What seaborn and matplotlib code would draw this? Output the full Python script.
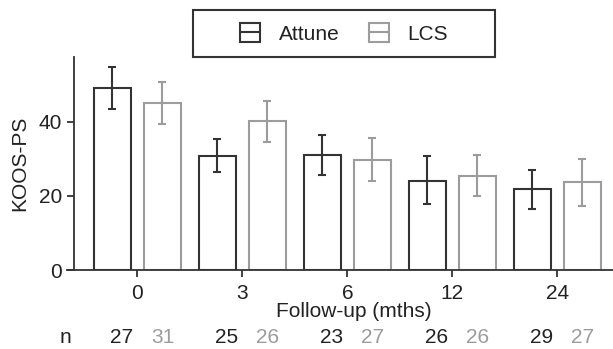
import numpy as np
import pandas as pd
import matplotlib
matplotlib.use("Agg")
import matplotlib.pyplot as plt
import seaborn as sns
from matplotlib.patches import Patch, Rectangle
from matplotlib.lines import Line2D
from matplotlib.legend_handler import HandlerTuple
from matplotlib.transforms import blended_transform_factory

months = ["0", "3", "6", "12", "24"]
groups = ["Attune", "LCS"]
attune_mean = [49.1, 30.9, 31.1, 24.1, 21.8]
attune_lo = [43.5, 26.4, 25.7, 17.7, 16.5]
attune_hi = [54.7, 35.3, 36.4, 30.8, 27.0]
lcs_mean = [45.2, 40.2, 29.8, 25.5, 23.7]
lcs_lo = [39.4, 34.6, 23.9, 19.9, 17.2]
lcs_hi = [50.8, 45.7, 35.7, 31.0, 30.0]
attune_n = [27, 25, 23, 26, 29]
lcs_n = [31, 26, 27, 26, 27]

colors = {"Attune": "#333333", "LCS": "#9c9c9c"}
fs = 15

df = pd.DataFrame({
    "month": months * 2,
    "group": ["Attune"] * 5 + ["LCS"] * 5,
    "mean": attune_mean + lcs_mean,
    "lo": attune_lo + lcs_lo,
    "hi": attune_hi + lcs_hi,
    "n": attune_n + lcs_n,
})

sns.set_style("ticks")
plt.rcParams["font.family"] = ["Liberation Sans", "DejaVu Sans"]

fig = plt.figure(figsize=(6.13, 3.49), dpi=100)
ax = fig.add_axes([67 / 613, 1 - 270 / 349, 546 / 613, 213 / 349])

sns.barplot(data=df, x="month", y="mean", hue="group", order=months,
            hue_order=groups, palette=colors, fill=False, linewidth=1.5,
            width=0.952, gap=0.26, errorbar=None, legend=False, ax=ax)

for cont, g in zip(ax.containers, groups):
    sub = df[df["group"] == g].set_index("month").loc[months]
    xs = [p.get_x() + p.get_width() / 2 for p in cont.patches]
    ax.errorbar(xs, sub["mean"], yerr=[sub["mean"] - sub["lo"], sub["hi"] - sub["mean"]],
                fmt="none", ecolor=colors[g], elinewidth=1.5, capsize=3, capthick=1.5)

ax.set_xlim(-0.671, 4.53)
ax.set_ylim(0, 57.5)
ax.set_yticks([0, 20, 40])
sns.despine(ax=ax)
ax.spines["left"].set_position(("data", -0.605))
for s in ["left", "bottom"]:
    ax.spines[s].set_color("#333333")
    ax.spines[s].set_linewidth(1.3)
ax.tick_params(colors="#333333", labelcolor="#222222", labelsize=fs, length=5, width=1.3)
ax.tick_params(axis="x", pad=5)
ax.set_ylabel("KOOS-PS", fontsize=fs, color="#222222")
ax.yaxis.set_label_coords(-0.07, 0.5)
ax.set_xlabel("Follow-up (mths)", fontsize=fs, color="#222222")
ax.xaxis.set_label_coords(0.525, -0.152)

# n per group under the axis
tr = blended_transform_factory(ax.transData, fig.transFigure)
ax.text(-0.69, 0.034, "n", transform=tr, ha="center", va="center", fontsize=fs, color="#222222")
for i, m in enumerate(months):
    ax.text(i - 0.155, 0.034, str(attune_n[i]), transform=tr, ha="center", va="center",
            fontsize=fs, color="#222222")
    ax.text(i + 0.24, 0.034, str(lcs_n[i]), transform=tr, ha="center", va="center",
            fontsize=fs, color=colors["LCS"])

handles = [(Patch(facecolor="white", edgecolor=colors[g], linewidth=1.5),
            Line2D([], [], color=colors[g], linewidth=1.5)) for g in groups]
leg = fig.legend(handles, groups, handler_map={tuple: HandlerTuple()}, ncol=2,
                 loc="center", bbox_to_anchor=(0.561, 0.904), frameon=False,
                 fontsize=fs, handlelength=0.96, handleheight=1.0,
                 handletextpad=0.9, columnspacing=1.4)
for t in leg.get_texts():
    t.set_color("#222222")
fig.patches.append(Rectangle((193 / 613, 1 - 57 / 349), 302 / 613, 47 / 349,
                             transform=fig.transFigure, fill=False,
                             edgecolor="#333333", linewidth=1.5))

fig.savefig("out.png", dpi=100)
